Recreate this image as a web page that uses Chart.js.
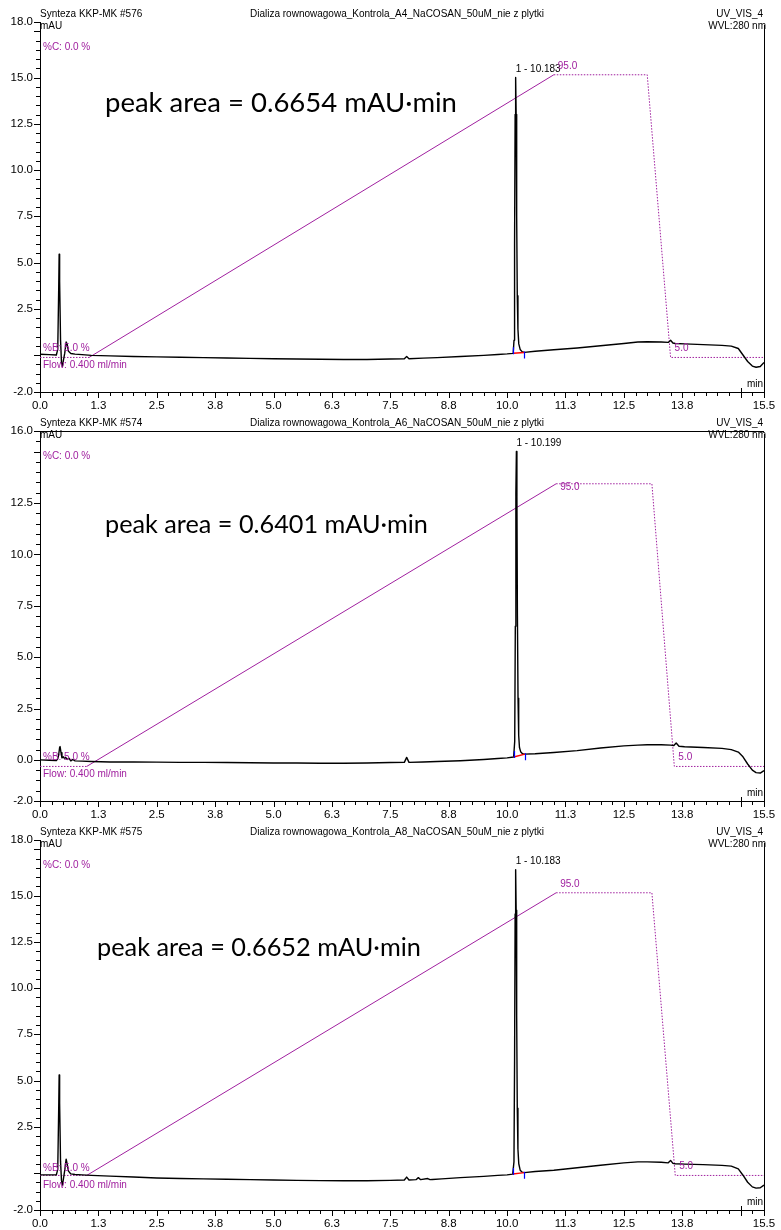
<!DOCTYPE html>
<html>
<head>
<meta charset="utf-8">
<script src="https://cdn.jsdelivr.net/npm/chart.js@4.4.1/dist/chart.umd.min.js"></script>
<style>
  html, body { margin: 0; padding: 0; background: #fff; }
  #wrap { position: relative; width: 781px; height: 1230px; overflow: hidden; }
  canvas { position: absolute; left: 0; }
</style>
</head>
<body>
<div id="wrap">
  <canvas id="c576" width="781" height="409" style="top:0px"></canvas>
  <canvas id="c574" width="781" height="409" style="top:409px"></canvas>
  <canvas id="c575" width="781" height="412" style="top:818px"></canvas>
</div>
<script>
// x axis (min) tick labels
const xTickLabels = [0, 1.25, 2.5, 3.75, 5, 6.25, 7.5, 8.75, 10, 11.25, 12.5, 13.75, 15.5];
// y axis (mAU) labels per run
const yLabels576 = [18, 15, 12.5, 10, 7.5, 5, 2.5, -2];
const yLabels574 = [16, 12.5, 10, 7.5, 5, 2.5, 0, -2];
const yLabels575 = [18, 15, 12.5, 10, 7.5, 5, 2.5, -2];

// run #576 (A4)
const t576 = [0, 0.2, 0.35, 0.38, 0.40, 0.41, 0.42, 0.44, 0.46, 0.48,
  0.50, 0.53, 0.56, 0.58, 0.61, 0.66, 0.75, 0.9, 1.1, 1.5,
  2.0, 2.5, 3.0, 3.5, 4.0, 4.5, 5.0, 5.5, 6.0, 6.5,
  7.0, 7.5, 7.8, 7.85, 7.9, 8.2, 8.5, 9.0, 9.5, 9.8,
  10.0, 10.13, 10.148, 10.16, 10.172, 10.183, 10.194, 10.205, 10.218, 10.232,
  10.25, 10.28, 10.32, 10.37, 10.6, 11.0, 11.5, 12.0, 12.5, 12.8,
  13.0, 13.3, 13.45, 13.5, 13.55, 13.6, 13.8, 14.2, 14.6, 14.8,
  14.95, 15.05, 15.15, 15.25, 15.33, 15.42, 15.5];
const mAU576 = [0.04, 0.02, 0.0, 0.3, 3.5, 5.45, 4.0, 0.8, -0.4, -0.62,
  -0.3, 0.1, 0.7, 0.6, 0.2, 0.08, 0.05, 0.02, -0.02, -0.05,
  -0.08, -0.1, -0.12, -0.14, -0.16, -0.18, -0.2, -0.22, -0.23, -0.24,
  -0.24, -0.22, -0.2, -0.08, -0.2, -0.17, -0.14, -0.08, -0.02, 0.03,
  0.06, 0.09, 0.8, 6.0, 13.0, 15.0, 13.0, 7.5, 3.2, 1.4,
  0.6, 0.3, 0.18, 0.14, 0.2, 0.28, 0.38, 0.5, 0.62, 0.7,
  0.72, 0.7, 0.68, 0.8, 0.65, 0.62, 0.6, 0.56, 0.52, 0.48,
  0.35, 0.0, -0.35, -0.6, -0.66, -0.62, -0.4];
const gradT576 = [0, 1.05, 11.0, 13.0, 13.5, 15.5];
const gradB576 = [5, 5, 95, 95, 5, 5];

// run #574 (A6)
const t574 = [0, 0.2, 0.35, 0.38, 0.40, 0.42, 0.43, 0.45, 0.47, 0.50,
  0.53, 0.55, 0.58, 0.62, 0.66, 0.70, 0.75, 0.9, 1.1, 1.5,
  2.0, 2.5, 3.0, 3.5, 4.0, 4.5, 5.0, 5.5, 6.0, 6.5,
  7.0, 7.5, 7.8, 7.85, 7.9, 8.2, 8.5, 9.0, 9.5, 9.8,
  10.0, 10.14, 10.163, 10.176, 10.188, 10.199, 10.21, 10.221, 10.234, 10.248,
  10.265, 10.29, 10.33, 10.38, 10.6, 11.0, 11.5, 12.0, 12.5, 12.8,
  13.0, 13.3, 13.5, 13.57, 13.62, 13.68, 13.8, 14.2, 14.6, 14.8,
  14.95, 15.05, 15.15, 15.25, 15.33, 15.42, 15.5];
const mAU574 = [0.0, -0.02, -0.03, 0.05, 0.25, 0.6, 0.65, 0.35, 0.1, 0.15,
  0.05, 0.12, 0.02, 0.08, -0.05, 0.02, -0.05, -0.06, -0.08, -0.1,
  -0.1, -0.11, -0.12, -0.12, -0.13, -0.14, -0.15, -0.15, -0.16, -0.16,
  -0.15, -0.13, -0.12, 0.12, -0.12, -0.1, -0.08, -0.04, 0.02, 0.07,
  0.1, 0.14, 0.9, 6.5, 13.0, 15.0, 12.8, 7.0, 3.0, 1.2,
  0.6, 0.4, 0.3, 0.28, 0.3, 0.36, 0.45, 0.58, 0.68, 0.72,
  0.74, 0.74, 0.72, 0.7, 0.82, 0.66, 0.64, 0.6, 0.56, 0.5,
  0.38, 0.15, -0.2, -0.5, -0.62, -0.64, -0.52];
const gradT574 = [0, 1.0, 11.05, 13.1, 13.58, 15.5];
const gradB574 = [5, 5, 95, 95, 5, 5];

// run #575 (A8)
const t575 = [0, 0.2, 0.35, 0.38, 0.40, 0.41, 0.42, 0.44, 0.46, 0.48,
  0.50, 0.53, 0.56, 0.58, 0.61, 0.66, 0.75, 0.9, 1.1, 1.5,
  2.0, 2.5, 3.0, 3.5, 4.0, 4.5, 5.0, 5.5, 6.0, 6.5,
  7.0, 7.5, 7.8, 7.85, 7.9, 8.05, 8.1, 8.15, 8.3, 8.35,
  8.4, 8.6, 9.0, 9.5, 9.8, 10.0, 10.12, 10.147, 10.16, 10.172,
  10.183, 10.194, 10.205, 10.218, 10.232, 10.25, 10.28, 10.32, 10.37, 10.6,
  11.0, 11.5, 12.0, 12.5, 12.8, 13.0, 13.3, 13.45, 13.5, 13.55,
  13.6, 13.8, 14.2, 14.6, 14.8, 14.95, 15.05, 15.15, 15.25, 15.33,
  15.42, 15.5];
const mAU575 = [-0.1, -0.1, -0.1, 0.2, 3.4, 5.3, 3.8, 0.6, -0.4, -0.65,
  -0.35, 0.15, 0.75, 0.5, 0.1, -0.05, -0.08, -0.1, -0.13, -0.17,
  -0.22, -0.27, -0.3, -0.32, -0.34, -0.36, -0.38, -0.4, -0.41, -0.42,
  -0.42, -0.4, -0.38, -0.22, -0.38, -0.36, -0.25, -0.36, -0.3, -0.36,
  -0.35, -0.32, -0.25, -0.18, -0.13, -0.1, -0.06, 0.6, 6.0, 14.0,
  16.4, 14.2, 8.5, 3.5, 1.3, 0.5, 0.15, 0.05, 0.02, 0.08,
  0.15, 0.28, 0.42, 0.55, 0.6, 0.6, 0.58, 0.55, 0.68, 0.52,
  0.5, 0.48, 0.45, 0.41, 0.37, 0.22, -0.12, -0.5, -0.75, -0.82,
  -0.8, -0.65];
const gradT575 = [0, 1.0, 11.05, 13.1, 13.6, 15.5];
const gradB575 = [5, 5, 95, 95, 5, 5];

const PURPLE = '#a0209f';
Chart.defaults.font.family = "'Liberation Sans', Arial, sans-serif";
Chart.defaults.color = '#000';

const xTicks = [];
for (let i = 0; i <= 62; i++) xTicks.push(i * 0.25);
const yTicks = [];
for (let i = -4; i <= 36; i++) yTicks.push(i * 0.5);

const deco = {
  id: 'deco',
  afterDraw(chart, args, o) {
    const { ctx, chartArea: a, scales: { x, y, yB } } = chart;
    ctx.save();

    // tick marks (major / minor)
    ctx.strokeStyle = '#000';
    ctx.lineWidth = 1;
    ctx.beginPath();
    x.ticks.forEach(t => {
      const px = Math.round(x.getPixelForValue(t.value)) + 0.5;
      const q = t.value / 1.25;
      const major = Math.abs(q - Math.round(q)) < 1e-9 || t.value === 15.5;
      ctx.moveTo(px, a.bottom + (t.value === 15 ? -4 : 0));
      ctx.lineTo(px, a.bottom + (major ? 6 : 4));
    });
    y.ticks.forEach(t => {
      if (t.value > y.max) return;
      const py = Math.round(y.getPixelForValue(t.value)) + 0.5;
      const q = t.value / 2.5;
      const major = Math.abs(q - Math.round(q)) < 1e-9 || o.yLabels.includes(t.value);
      ctx.moveTo(a.left - (major ? 6 : 4), py);
      ctx.lineTo(a.left, py);
    });
    const rx = Math.round(a.right) + 0.5;
    ctx.moveTo(rx, a.top + 3);
    ctx.lineTo(rx, a.bottom);
    if (o.topLine) {
      ctx.moveTo(a.left, Math.round(a.top) + 0.5);
      ctx.lineTo(a.right, Math.round(a.top) + 0.5);
    }
    ctx.stroke();

    // peak integration marks
    const ps = x.getPixelForValue(o.peakStart), pe = x.getPixelForValue(o.peakEnd);
    const bs = y.getPixelForValue(o.baseStart), be = y.getPixelForValue(o.baseEnd);
    ctx.strokeStyle = '#ff0000';
    ctx.lineWidth = 1.5;
    ctx.beginPath();
    ctx.moveTo(ps, bs);
    ctx.lineTo(pe, be);
    ctx.stroke();
    ctx.strokeStyle = '#0000ff';
    ctx.lineWidth = 1.2;
    ctx.beginPath();
    ctx.moveTo(Math.round(ps) + 0.5, bs - 6);
    ctx.lineTo(Math.round(ps) + 0.5, bs + 1);
    ctx.moveTo(Math.round(pe) + 0.5, be - 1);
    ctx.lineTo(Math.round(pe) + 0.5, be + 6);
    ctx.stroke();

    // header texts
    ctx.fillStyle = '#000';
    ctx.textBaseline = 'middle';
    ctx.font = "10px 'Liberation Sans', Arial, sans-serif";
    ctx.textAlign = 'left';
    ctx.fillText(o.sample, 40, 14);
    ctx.fillText('mAU', 40, 26);
    ctx.textAlign = 'center';
    ctx.fillText(o.title, 397, 14);
    ctx.textAlign = 'right';
    ctx.fillText('UV_VIS_4', 763, 14);
    ctx.fillText('WVL:280 nm', 766, 26);
    ctx.fillText('min', 763, a.bottom - 8);

    // peak label
    ctx.textAlign = 'left';
    const pk = x.getPixelForValue(o.peakRT);
    ctx.fillText('1 - ' + o.peakRT.toFixed(3), pk, y.getPixelForValue(o.peakTop) - 8);

    // gradient texts
    ctx.fillStyle = PURPLE;
    ctx.fillText('%C: 0.0 %', 43, 47);
    ctx.fillText('%B: 5.0 %', 43, o.bY);
    ctx.fillText('Flow: 0.400 ml/min', 43, o.bY + 17);
    const g = o.gradT;
    ctx.fillText('95.0', x.getPixelForValue(g[2]) + 4, yB.getPixelForValue(95) + o.top95);
    ctx.fillText('5.0', x.getPixelForValue(g[4]) + 4, yB.getPixelForValue(5) - 9);

    // peak area annotation
    ctx.fillStyle = '#000';
    ctx.font = "100px Lato, 'Open Sans', sans-serif";
    const w = ctx.measureText(o.area).width;
    ctx.font = (100 * o.areaW / w).toFixed(2) + "px Lato, 'Open Sans', sans-serif";
    ctx.fillText(o.area, o.areaX, o.areaY);
    ctx.restore();
  }
};

function makePanel(id, p) {
  return new Chart(document.getElementById(id), {
    type: 'line',
    data: {
      datasets: [
        {
          data: p.t.map((t, i) => ({ x: t, y: p.v[i] })),
          borderColor: '#000', borderWidth: 1.4, borderJoinStyle: 'round',
          pointRadius: 0, yAxisID: 'y', order: 1
        },
        {
          data: p.gradT.map((t, i) => ({ x: t, y: p.gradB[i] })),
          borderColor: PURPLE, borderWidth: 1, pointRadius: 0, yAxisID: 'yB', order: 2,
          segment: { borderDash: c => (c.p1.parsed.y > c.p0.parsed.y ? undefined : [1.5, 1.5]) }
        }
      ]
    },
    options: {
      responsive: false, animation: false, devicePixelRatio: 1,
      layout: { padding: { top: 22, right: 17, left: 0, bottom: 0 } },
      plugins: { legend: { display: false }, tooltip: { enabled: false }, deco: p },
      scales: {
        x: {
          type: 'linear', min: 0, max: 15.5,
          afterBuildTicks: s => { s.ticks = xTicks.map(v => ({ value: v })); },
          afterFit: s => { s.height = p.xh; },
          grid: { display: false, drawTicks: true, tickLength: 6 },
          border: { color: '#000', width: 1 },
          ticks: {
            autoSkip: false, maxRotation: 0, padding: 1, color: '#000', font: { size: 11.5 },
            callback: v => (xTickLabels.includes(v) ? v.toFixed(1) : '')
          }
        },
        y: {
          type: 'linear', min: -2, max: p.yMax,
          afterBuildTicks: s => { s.ticks = yTicks.filter(v => v <= p.yMax).map(v => ({ value: v })); },
          afterFit: s => { s.width = 40; },
          grid: { display: false, drawTicks: true, tickLength: 6 },
          border: { color: '#000', width: 1 },
          ticks: {
            autoSkip: false, padding: 1, color: '#000', font: { size: 11.5 },
            callback: v => (p.yLabels.includes(v) ? v.toFixed(1) : '')
          }
        },
        yB: { display: false, min: -6, max: 111.8 }
      }
    },
    plugins: [deco]
  });
}

makePanel('c576', {
  t: t576, v: mAU576, gradT: gradT576, gradB: gradB576, yLabels: yLabels576, yMax: 18, xh: 17,
  sample: 'Synteza KKP-MK #576',
  title: 'Dializa rownowagowa_Kontrola_A4_NaCOSAN_50uM_nie z plytki',
  peakRT: 10.183, peakTop: 15.0, peakStart: 10.13, peakEnd: 10.37, baseStart: 0.09, baseEnd: 0.14,
  topLine: false, bY: 348, top95: -9,
  area: 'peak area = 0.6654 mAU\u00b7min', areaX: 105, areaY: 103, areaW: 352
});
makePanel('c574', {
  t: t574, v: mAU574, gradT: gradT574, gradB: gradB574, yLabels: yLabels574, yMax: 16, xh: 17,
  sample: 'Synteza KKP-MK #574',
  title: 'Dializa rownowagowa_Kontrola_A6_NaCOSAN_50uM_nie z plytki',
  peakRT: 10.199, peakTop: 15.0, peakStart: 10.14, peakEnd: 10.38, baseStart: 0.14, baseEnd: 0.28,
  topLine: true, bY: 348, top95: 3,
  area: 'peak area = 0.6401 mAU\u00b7min', areaX: 105, areaY: 116, areaW: 323
});
makePanel('c575', {
  t: t575, v: mAU575, gradT: gradT575, gradB: gradB575, yLabels: yLabels575, yMax: 18, xh: 20,
  sample: 'Synteza KKP-MK #575',
  title: 'Dializa rownowagowa_Kontrola_A8_NaCOSAN_50uM_nie z plytki',
  peakRT: 10.183, peakTop: 16.4, peakStart: 10.12, peakEnd: 10.37, baseStart: -0.06, baseEnd: 0.02,
  topLine: false, bY: 350, top95: -9,
  area: 'peak area = 0.6652 mAU\u00b7min', areaX: 97, areaY: 130, areaW: 324
});
</script>
</body>
</html>
